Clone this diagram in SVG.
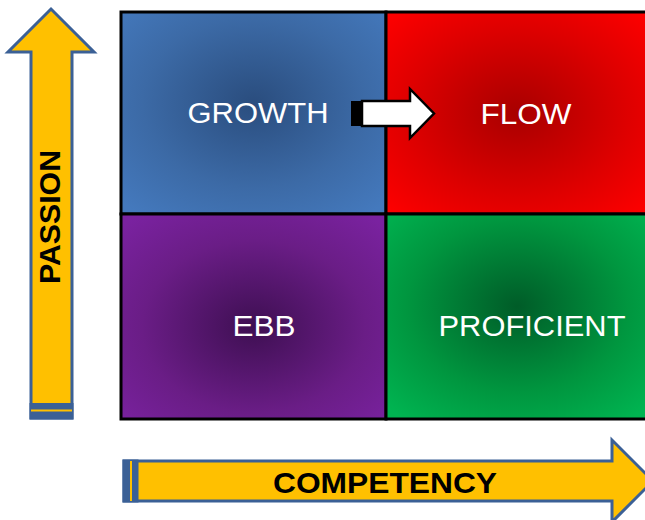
<svg xmlns="http://www.w3.org/2000/svg" width="645" height="520" viewBox="0 0 645 520">
  <defs>
    <radialGradient id="gBlue" cx="0.5" cy="0.45" r="0.7">
      <stop offset="0" stop-color="#2a4d7e"/>
      <stop offset="0.6" stop-color="#3c6aa6"/>
      <stop offset="1" stop-color="#4479bd"/>
    </radialGradient>
    <radialGradient id="gRed" cx="0.5" cy="0.5" r="0.7">
      <stop offset="0" stop-color="#a80000"/>
      <stop offset="0.6" stop-color="#de0000"/>
      <stop offset="1" stop-color="#ff0000"/>
    </radialGradient>
    <radialGradient id="gPurple" cx="0.5" cy="0.55" r="0.7">
      <stop offset="0" stop-color="#3e0f52"/>
      <stop offset="0.6" stop-color="#6a1d86"/>
      <stop offset="1" stop-color="#7a22a0"/>
    </radialGradient>
    <radialGradient id="gGreen" cx="0.5" cy="0.45" r="0.7">
      <stop offset="0" stop-color="#005c28"/>
      <stop offset="0.6" stop-color="#00963f"/>
      <stop offset="1" stop-color="#00b451"/>
    </radialGradient>
    <style>
      .cell { stroke: #000; stroke-width: 3; }
      .lbl { font-family: "Liberation Sans", Arial, sans-serif; font-size: 29px; fill: #fff; text-anchor: middle; }
      .axis { fill: #ffc000; stroke: #3b6096; stroke-width: 3; stroke-linejoin: miter; }
      .band { fill: #3b6096; }
      .axlbl { font-family: "Liberation Sans", Arial, sans-serif; font-size: 30px; font-weight: bold; fill: #000; text-anchor: middle; }
    </style>
  </defs>

  <!-- quadrant grid -->
  <g id="growth">
    <rect class="cell" x="121" y="12" width="265" height="202" fill="url(#gBlue)"/>
    <text class="lbl" x="258" y="123" textLength="141" lengthAdjust="spacingAndGlyphs">GROWTH</text>
  </g>
  <g id="flow">
    <rect class="cell" x="386" y="12" width="262" height="202" fill="url(#gRed)"/>
    <text class="lbl" x="526" y="124" textLength="91" lengthAdjust="spacingAndGlyphs">FLOW</text>
  </g>
  <g id="ebb">
    <rect class="cell" x="121" y="214" width="265" height="205" fill="url(#gPurple)"/>
    <text class="lbl" x="264" y="336" textLength="63" lengthAdjust="spacingAndGlyphs">EBB</text>
  </g>
  <g id="proficient">
    <rect class="cell" x="386" y="214" width="262" height="205" fill="url(#gGreen)"/>
    <text class="lbl" x="532" y="336" textLength="187" lengthAdjust="spacingAndGlyphs">PROFICIENT</text>
  </g>

  <g id="connectors">
    <!-- growth to flow arrow -->
    <rect x="351" y="101" width="12" height="25" fill="#000"/>
    <path d="M362,101 H410 V89 L434,113.5 L410,138 V126 H362 Z" fill="#fff" stroke="#000" stroke-width="2.5" stroke-linejoin="miter"/>
  </g>

  <!-- passion axis -->
  <g id="passion-axis">
    <path class="axis" d="M31,418 V52 H8 L51,9 L94,52 H72 V418 Z"/>
    <rect class="band" x="29.5" y="403" width="44" height="16.5"/>
    <rect x="31" y="409.5" width="41" height="2" fill="#ffc000"/>
    <text class="axlbl" transform="translate(60,217) rotate(-90)" textLength="134" lengthAdjust="spacingAndGlyphs">PASSION</text>
  </g>

  <!-- competency axis -->
  <g id="competency-axis">
    <path class="axis" d="M124,461 H612 V440 L653,481 L612,522 V501 H124 Z"/>
    <rect class="band" x="122.5" y="459.5" width="16" height="43"/>
    <rect x="130" y="461" width="2" height="40" fill="#ffc000"/>
    <text class="axlbl" x="385" y="493" textLength="224" lengthAdjust="spacingAndGlyphs">COMPETENCY</text>
  </g>
</svg>
